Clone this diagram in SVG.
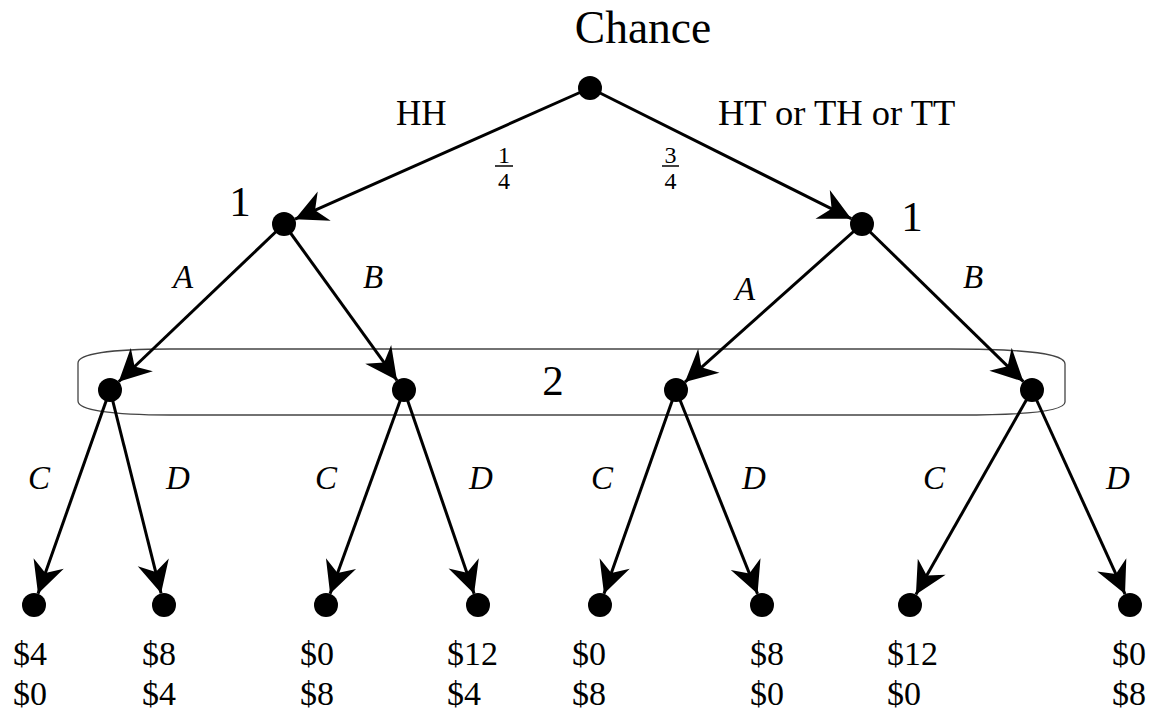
<svg xmlns="http://www.w3.org/2000/svg" width="1164" height="714" viewBox="0 0 1164 714">
<style>
text{font-family:"Liberation Serif",serif;fill:#000}
.lbl{font-size:35px}
.big{font-size:43px}
.it{font-size:33px;font-style:italic}
.pay{font-size:34px}
.frac{font-size:24px}
.edge{stroke:#000;stroke-width:3;fill:none;marker-end:url(#arr)}
.node{fill:#000}
</style>
<defs>
<marker id="arr" markerUnits="userSpaceOnUse" markerWidth="40" markerHeight="40" refX="34" refY="18" orient="auto" overflow="visible">
<path d="M34,18 L2,2 L12,18 L2,34 Z" fill="#000"/>
</marker>
</defs>
<rect width="1164" height="714" fill="#fff"/>
<g id="infoset">
<path d="M170,349 L950,349 C1030,349 1065,354 1065,364 L1065,402 C1065,411 1030,415 960,415 L170,415 C110,415 78,410 78,401 L78,363 C78,354 110,349 170,349 Z" fill="none" stroke="#444" stroke-width="1.3"/>
<text class="big" x="553" y="395" text-anchor="middle">2</text>
</g>
<g id="connectors">
<line class="edge" x1="590" y1="88" x2="294.96" y2="219.13"/>
<line class="edge" x1="590" y1="88" x2="851.27" y2="218.63"/>
<line class="edge" x1="284" y1="224" x2="118.68" y2="381.72"/>
<line class="edge" x1="284" y1="224" x2="396.97" y2="380.27"/>
<line class="edge" x1="862" y1="224" x2="684.95" y2="382.01"/>
<line class="edge" x1="862" y1="224" x2="1023.41" y2="381.62"/>
<line class="edge" x1="110" y1="390" x2="38" y2="593.68"/>
<line class="edge" x1="110" y1="390" x2="161.08" y2="593.36"/>
<line class="edge" x1="404" y1="390" x2="330.09" y2="593.72"/>
<line class="edge" x1="404" y1="390" x2="474.1" y2="593.65"/>
<line class="edge" x1="676" y1="390" x2="604" y2="593.68"/>
<line class="edge" x1="676" y1="390" x2="757.54" y2="593.86"/>
<line class="edge" x1="1032" y1="390" x2="915.92" y2="594.56"/>
<line class="edge" x1="1032" y1="390" x2="1125.02" y2="594.08"/>
</g>
<g id="edge-labels">
<text class="lbl" x="396" y="125">HH</text>
<text class="lbl" x="718" y="125" style="font-size:36.5px">HT or TH or TT</text>
<text class="frac" x="504" y="163" text-anchor="middle">1</text>
<line x1="495" y1="166" x2="513" y2="166" stroke="#000" stroke-width="1.5"/>
<text class="frac" x="504" y="189" text-anchor="middle">4</text>
<text class="frac" x="670.5" y="163" text-anchor="middle">3</text>
<line x1="662" y1="166" x2="679" y2="166" stroke="#000" stroke-width="1.5"/>
<text class="frac" x="670.5" y="189" text-anchor="middle">4</text>
<text class="it" x="183" y="288" text-anchor="middle">A</text>
<text class="it" x="373" y="288" text-anchor="middle">B</text>
<text class="it" x="745" y="300" text-anchor="middle">A</text>
<text class="it" x="973" y="288" text-anchor="middle">B</text>
<text class="it" x="39" y="489" text-anchor="middle">C</text>
<text class="it" x="178" y="489" text-anchor="middle">D</text>
<text class="it" x="326" y="489" text-anchor="middle">C</text>
<text class="it" x="481" y="489" text-anchor="middle">D</text>
<text class="it" x="602" y="489" text-anchor="middle">C</text>
<text class="it" x="754" y="489" text-anchor="middle">D</text>
<text class="it" x="934" y="489" text-anchor="middle">C</text>
<text class="it" x="1118" y="489" text-anchor="middle">D</text>
</g>
<g id="root">
<circle class="node" cx="590" cy="88" r="12"/>
<text class="big" x="643" y="43" text-anchor="middle" style="font-size:45.5px">Chance</text>
</g>
<g id="p1-left">
<circle class="node" cx="284" cy="224" r="12"/>
<text class="big" x="240" y="216" text-anchor="middle">1</text>
</g>
<g id="p1-right">
<circle class="node" cx="862" cy="224" r="12"/>
<text class="big" x="912" y="231" text-anchor="middle">1</text>
</g>
<g id="p2-n1"><circle class="node" cx="110" cy="390" r="12"/></g>
<g id="p2-n2"><circle class="node" cx="404" cy="390" r="12"/></g>
<g id="p2-n3"><circle class="node" cx="676" cy="390" r="12"/></g>
<g id="p2-n4"><circle class="node" cx="1032" cy="390" r="12"/></g>
<g id="leaf1"><circle class="node" cx="34" cy="605" r="12"/><text class="pay" x="13" y="665">$4</text><text class="pay" x="13" y="705">$0</text></g>
<g id="leaf2"><circle class="node" cx="164" cy="605" r="12"/><text class="pay" x="142" y="665">$8</text><text class="pay" x="142" y="705">$4</text></g>
<g id="leaf3"><circle class="node" cx="326" cy="605" r="12"/><text class="pay" x="300" y="665">$0</text><text class="pay" x="300" y="705">$8</text></g>
<g id="leaf4"><circle class="node" cx="478" cy="605" r="12"/><text class="pay" x="447" y="665">$12</text><text class="pay" x="447" y="705">$4</text></g>
<g id="leaf5"><circle class="node" cx="600" cy="605" r="12"/><text class="pay" x="572" y="665">$0</text><text class="pay" x="572" y="705">$8</text></g>
<g id="leaf6"><circle class="node" cx="762" cy="605" r="12"/><text class="pay" x="750" y="665">$8</text><text class="pay" x="750" y="705">$0</text></g>
<g id="leaf7"><circle class="node" cx="910" cy="605" r="12"/><text class="pay" x="887" y="665">$12</text><text class="pay" x="887" y="705">$0</text></g>
<g id="leaf8"><circle class="node" cx="1130" cy="605" r="12"/><text class="pay" x="1112" y="665">$0</text><text class="pay" x="1112" y="705">$8</text></g>
</svg>
